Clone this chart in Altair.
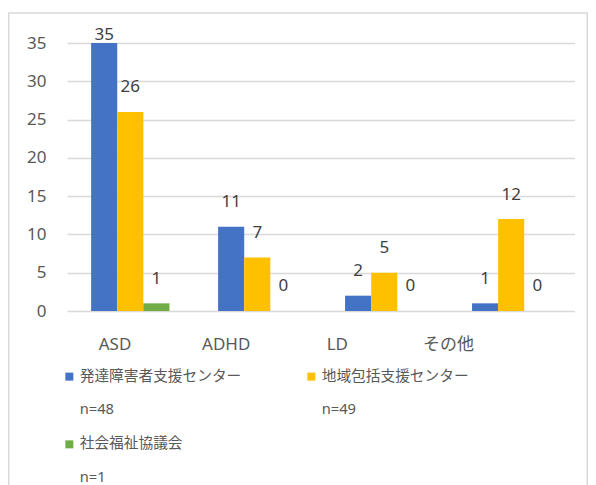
import altair as alt
import pandas as pd

categories = ["ASD", "ADHD", "LD", "その他"]
series = ["発達障害者支援センター", "地域包括支援センター", "社会福祉協議会"]
series_n = ["n=48", "n=49", "n=1"]
v_center = [35, 11, 2, 1]
v_houkatsu = [26, 7, 5, 12]
v_shakyo = [1, 0, 0, 0]
colors = ["#4472C4", "#FFC000", "#70AD47"]

FONT = "Noto Sans, Noto Sans CJK JP, sans-serif"

series_labels = [s + "|" + n for s, n in zip(series, series_n)]
rows = []
for lab, vals in zip(series_labels, [v_center, v_houkatsu, v_shakyo]):
    for c, v in zip(categories, vals):
        rows.append({"category": c, "series": lab, "value": v})
df = pd.DataFrame(rows)
cat_df = pd.DataFrame({"category": categories})

W, H = 507.5, 268

x_bar = alt.X("category:N", sort=categories, axis=None,
              scale=alt.Scale(paddingInner=0.383, paddingOuter=0.19))
x_off = alt.XOffset("series:N", sort=series_labels,
                    scale=alt.Scale(paddingInner=0, paddingOuter=0))
y_scale = alt.Scale(domain=[0, 35], nice=False)
y_axis = alt.Axis(title=None, values=[0, 5, 10, 15, 20, 25, 30, 35],
                  domain=False, ticks=False, grid=True, labelFontSize=17,
                  labelColor="#595959", labelPadding=21, labelFont=FONT,
                  gridColor="#d9d9d9", gridWidth=1.5)

bars = alt.Chart(df).mark_bar().encode(
    x=x_bar,
    xOffset=x_off,
    y=alt.Y("value:Q", scale=y_scale, axis=y_axis),
    color=alt.Color("series:N", sort=series_labels,
                    scale=alt.Scale(domain=series_labels, range=colors),
                    legend=alt.Legend(
                        title=None, orient="none", legendX=-5, legendY=326,
                        direction="horizontal",
                        columns=2, symbolType="square", symbolSize=64,
                        symbolStrokeWidth=0, labelFontSize=14.7, labelFont=FONT,
                        labelColor="#595959", labelOffset=3, columnPadding=62,
                        rowPadding=19, labelLimit=400,
                        labelExpr="[split(datum.label, '|')[0], '\u200b', split(datum.label, '|')[1]]")),
)

labels = alt.Chart(df).transform_calculate(
    label_y="min(datum.value + 3.2, 36.1)"
).mark_text(baseline="middle", fontSize=17, color="#404040", font=FONT).encode(
    x=x_bar,
    xOffset=x_off,
    y=alt.Y("label_y:Q", scale=y_scale, axis=y_axis),
    text="value:Q",
)

inner = alt.layer(bars, labels)

xlab = alt.Chart(cat_df).mark_text(opacity=0).encode(
    x=alt.X("category:N", sort=categories,
            scale=alt.Scale(type="point", range=[47.5, 381], padding=0),
            axis=alt.Axis(title=None, domain=False, ticks=False, grid=False,
                          labelFontSize=17, labelColor="#595959", labelPadding=25,
                          labelAngle=0, labelFont=FONT)),
    text="category:N",
)

frame = alt.Chart(cat_df.head(1)).mark_rect(
    fillOpacity=0, stroke="#d9d9d9", strokeWidth=1.5
).encode(
    x=alt.value(-58.25), x2=alt.value(520.25), y=alt.value(-30), y2=alt.value(460)
)

chart = alt.layer(frame, inner, xlab).resolve_scale(x="independent").properties(
    width=W, height=H,
    autosize=alt.AutoSizeParams(type="none"),
    padding={"left": 59, "top": 35, "right": 13.5, "bottom": 174},
    background="white",
).configure_view(stroke=None)

chart.save("out.html", embed_options={"renderer": "svg", "actions": False})
